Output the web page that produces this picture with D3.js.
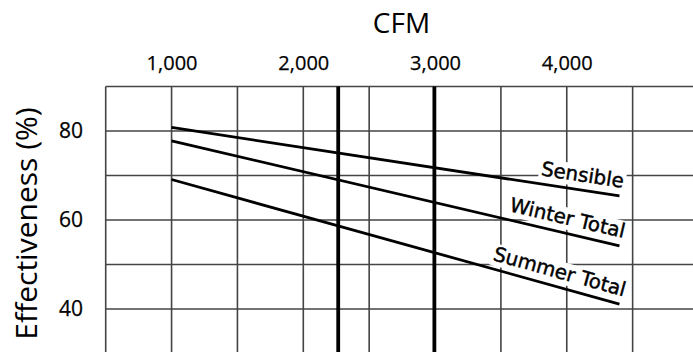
<!DOCTYPE html>
<html>
<head>
<meta charset="utf-8">
<script src="https://cdn.jsdelivr.net/npm/d3@7"></script>
<style>
  html, body { margin: 0; padding: 0; background: #fff; }
  svg { display: block; }
</style>
</head>
<body>
<svg id="chart" width="693" height="352"></svg>
<script>
// ---- data ----
const cfm = [1000, 4400];
const sensible = [80.8, 65.4];
const winterTotal = [77.8, 54.2];
const summerTotal = [69.1, 41.1];
const seriesNames = ["Sensible", "Winter Total", "Summer Total"];
const xTickValues = [1000, 2000, 3000, 4000];
const yTickValues = [40, 60, 80];
const markerCfm = [2265, 2995];
const xTitle = "CFM";
const yTitle = "Effectiveness (%)";

// ---- layout ----
const svg = d3.select("#chart");
const x = d3.scaleLinear().domain([500, 5000]).range([105.7, 698.5]);
const y = d3.scaleLinear().domain([30, 90]).range([353.5, 86.5]);
const gridColor = "#444";

// grid
const gGrid = svg.append("g");
gGrid.selectAll("line.v").data(d3.range(500, 5001, 500)).join("line")
  .attr("x1", d => x(d)).attr("x2", d => x(d))
  .attr("y1", y(90)).attr("y2", y(30))
  .attr("stroke", gridColor).attr("stroke-width", 1.6);
gGrid.selectAll("line.h").data(d3.range(40, 91, 10)).join("line")
  .attr("x1", x(500)).attr("x2", x(5000))
  .attr("y1", d => y(d)).attr("y2", d => y(d))
  .attr("stroke", gridColor).attr("stroke-width", 1.6);

// thick marker lines
svg.append("g").selectAll("line").data(markerCfm).join("line")
  .attr("x1", d => x(d)).attr("x2", d => x(d))
  .attr("y1", y(90)).attr("y2", y(30))
  .attr("stroke", "#000").attr("stroke-width", 3.8);

// axes
const xAxis = svg.append("g").attr("transform", "translate(0,70)")
  .call(d3.axisTop(x).tickValues(xTickValues).tickSize(0).tickPadding(0)
    .tickFormat(d3.format(",")));
xAxis.select(".domain").remove();
xAxis.selectAll("text").attr("font-family", "'Open Sans', sans-serif")
  .attr("font-size", 20).attr("fill", "#000").attr("dy", "0")
  .attr("stroke", "#000").attr("stroke-width", 0.25);

const yAxis = svg.append("g").attr("transform", "translate(83,0)")
  .call(d3.axisLeft(y).tickValues(yTickValues).tickSize(0).tickPadding(0));
yAxis.select(".domain").remove();
yAxis.selectAll("text").attr("font-family", "'Open Sans', sans-serif")
  .attr("font-size", 21).attr("fill", "#000")
  .attr("stroke", "#000").attr("stroke-width", 0.25);

// titles
svg.append("text").attr("x", 401.5).attr("y", 33)
  .attr("text-anchor", "middle").attr("font-family", "'Open Sans', sans-serif")
  .attr("font-size", 28).attr("fill", "#000").text(xTitle);
svg.append("text").attr("transform", "translate(37,223.5) rotate(-90)")
  .attr("text-anchor", "middle").attr("font-family", "'Open Sans', sans-serif")
  .attr("font-size", 30).attr("fill", "#000").text(yTitle);

// series
const series = [sensible, winterTotal, summerTotal];
const line = d3.line().x(d => x(d[0])).y(d => y(d[1]));

// labels (white boxes behind, under lines)
const gLabels = svg.append("g");
series.forEach((vals, i) => {
  const x0 = x(cfm[0]), y0 = y(vals[0]);
  const x1 = x(cfm[1]), y1 = y(vals[1]);
  const ang = Math.atan2(y1 - y0, x1 - x0) * 180 / Math.PI;
  const g = gLabels.append("g")
    .attr("transform", `translate(${x1},${y1}) rotate(${ang})`);
  const rect = g.append("rect").attr("fill", "#fff");
  const t = g.append("text").attr("x", 2).attr("y", -8.5)
    .attr("text-anchor", "end")
    .attr("font-family", "'DejaVu Sans', Verdana, sans-serif")
    .attr("font-size", 19.8).attr("fill", "#000")
    .attr("stroke", "#000").attr("stroke-width", 0.45)
    .text(seriesNames[i]);
  const bb = t.node().getBBox();
  rect.attr("x", bb.x - 2).attr("y", bb.y + 1).attr("width", bb.width + 4).attr("height", bb.height - 1);
});

svg.append("g").selectAll("path").data(series).join("path")
  .attr("d", vals => line(cfm.map((c, j) => [c, vals[j]])))
  .attr("fill", "none").attr("stroke", "#000").attr("stroke-width", 2.8);
</script>
</body>
</html>
